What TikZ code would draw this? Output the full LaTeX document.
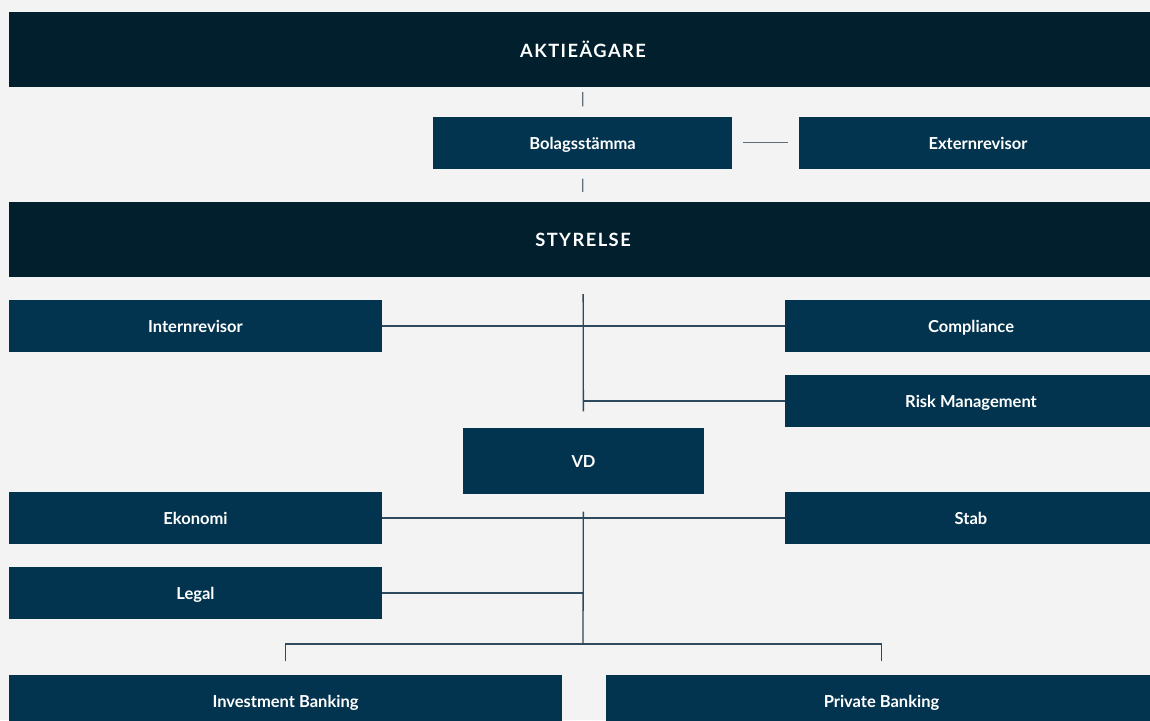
\documentclass[tikz,border=0pt]{standalone}
\usepackage{fontspec}
\setmainfont{Lato}
\newfontfamily\headfont[LetterSpace=8]{Lato}
\usepackage{tikz}
\usetikzlibrary{positioning, calc}
\definecolor{pagecolor}{HTML}{F3F3F3}
\definecolor{boardcolor}{HTML}{011F2D}
\definecolor{unitcolor}{HTML}{03344F}
\definecolor{linkcolor}{HTML}{2E4A5E}
\definecolor{stubcolor}{HTML}{5F6E78}

\begin{document}
\begin{tikzpicture}[
    x=1pt, y=-1pt,
    board/.style={fill=boardcolor, text=white, inner sep=0pt, minimum width=1148pt, minimum height=75pt, font=\headfont\fontsize{18.3}{22}\selectfont\bfseries},
    unit/.style={fill=unitcolor, text=white, inner sep=0pt, minimum height=52pt, text height=13.5pt, text depth=0pt, font=\fontsize{16.5}{19}\selectfont\bfseries},
    link/.style={draw=linkcolor, line width=1.3pt},
    stub/.style={draw=stubcolor, line width=1.3pt}
]
    % Page
    \fill[pagecolor] (0,0) rectangle (1150,720);
    \useasboundingbox (0,0) rectangle (1150,720);

    % Owners and board
    \node[board] (owners) at (583,49.5) {AKTIEÄGARE};
    \node[unit, minimum width=299pt] (meeting) at (582.5,142.5) {Bolagsstämma};
    \node[unit, minimum width=358pt] (auditor) at (978,142.5) {Externrevisor};
    \node[board] (board) at (583,239.5) {STYRELSE};

    % Board functions
    \node[unit, minimum width=373pt] (internal) at (195.5,326) {Internrevisor};
    \node[unit, minimum width=372pt] (compliance) at (971,326) {Compliance};
    \node[unit, minimum width=372pt] (risk) at (971,401) {Risk Management};

    % CEO and staff
    \node[unit, minimum width=241pt, minimum height=66pt] (ceo) at (583.5,460.5) {VD};
    \node[unit, minimum width=373pt] (finance) at (195.5,518) {Ekonomi};
    \node[unit, minimum width=372pt] (staff) at (971,518) {Stab};
    \node[unit, minimum width=373pt] (legal) at (195.5,593) {Legal};

    % Business areas
    \node[unit, minimum width=553pt] (ib) at (285.5,700.5) {Investment Banking};
    \node[unit, minimum width=551pt] (pb) at (881.5,700.5) {Private Banking};

    % Connectors
    \draw[stub, shorten <=5pt, shorten >=10pt] (owners) -- (meeting);
    \draw[stub, shorten <=11pt, shorten >=11pt] (meeting) -- (auditor);
    \draw[stub, shorten <=10pt, shorten >=10pt] (meeting) -- (board);

    \draw[link, shorten <=17pt, shorten >=16pt] (board) -- (ceo);
    \draw[link] (internal.east) -- (compliance.west);
    \draw[link] (risk.west) -- (risk.west -| ceo);

    \coordinate (split) at (583,644);
    \draw[link, shorten <=18pt] (ceo) -- (split);
    \draw[link] (finance.east) -- (staff.west);
    \draw[link] (legal.east) -- (legal.east -| split);
    \draw[link, shorten <=13pt, shorten >=13pt] (ib.north) |- (split) -| (pb.north);
\end{tikzpicture}
\end{document}
